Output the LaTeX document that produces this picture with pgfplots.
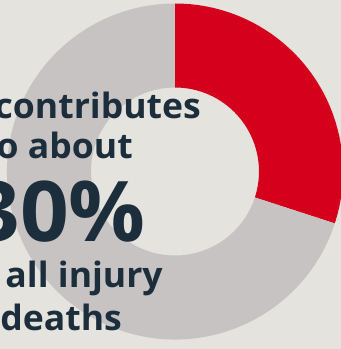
\documentclass[border=0pt]{standalone}
\usepackage{pgfplots}
\pgfplotsset{compat=1.18}
\usepackage{pgfplotstable}
\usepackage{fontspec}
\setmainfont{Open Sans}[FakeStretch=1.02]
\definecolor{bg}{HTML}{E4E3DE}
\definecolor{ring}{HTML}{C8C3C3}
\definecolor{fred}{HTML}{D5011C}
\definecolor{txt}{HTML}{1C2E3B}
\pgfplotstableread{
label value
Falls 30
Other 70
}\shares
\pgfplotstablegetelem{0}{value}\of\shares \let\va\pgfplotsretval
\pgfplotstablegetelem{1}{value}\of\shares \let\vb\pgfplotsretval
\pgfmathsetmacro\total{\va+\vb}
\pgfmathsetmacro\fa{\va/\total}
\pgfmathsetmacro\fb{\vb/\total}
\pgfmathsetmacro\angA{90-360*\fa}
\pgfmathsetmacro\angB{\angA-360*\fb}
\begin{document}
\begin{tikzpicture}
\path[use as bounding box, clip] (0,0) rectangle (341bp,349bp);
\begin{axis}[at={(0,0)}, anchor=south west, x=1bp, y=1bp,
  xmin=0, xmax=341, ymin=0, ymax=349, hide axis, scale only axis, clip=false]
\addplot[draw=none] coordinates {(0,0) (341,349)};
\fill[bg] (axis cs:0,0) rectangle (axis cs:341,349);
\fill[fred] (axis cs:175,177.5) ++(90:168bp) arc[start angle=90, end angle=\angA, radius=168bp]
   -- ++(\angA:-84bp) arc[start angle=\angA, end angle=90, radius=84bp] -- cycle;
\fill[ring] (axis cs:175,177.5) ++(\angA:168bp) arc[start angle=\angA, end angle=\angB, radius=168bp]
   -- ++(\angB:-84bp) arc[start angle=\angB, end angle=\angA, radius=84bp] -- cycle;
\begin{scope}[every node/.style={inner sep=0pt, text=txt, font=\bfseries\fontsize{35}{35}\selectfont}]
\node[anchor=base east] at (axis cs:201,231) {contributes};
\node[anchor=base east] at (axis cs:133,191) {to about};
\node[anchor=base east, font=\bfseries\fontsize{84}{84}\selectfont] at (axis cs:146,108) {30\%};
\node[anchor=base east] at (axis cs:163,62) {of all injury};
\node[anchor=base east] at (axis cs:122,19) {deaths};
\end{scope}
\end{axis}
\end{tikzpicture}
\end{document}
